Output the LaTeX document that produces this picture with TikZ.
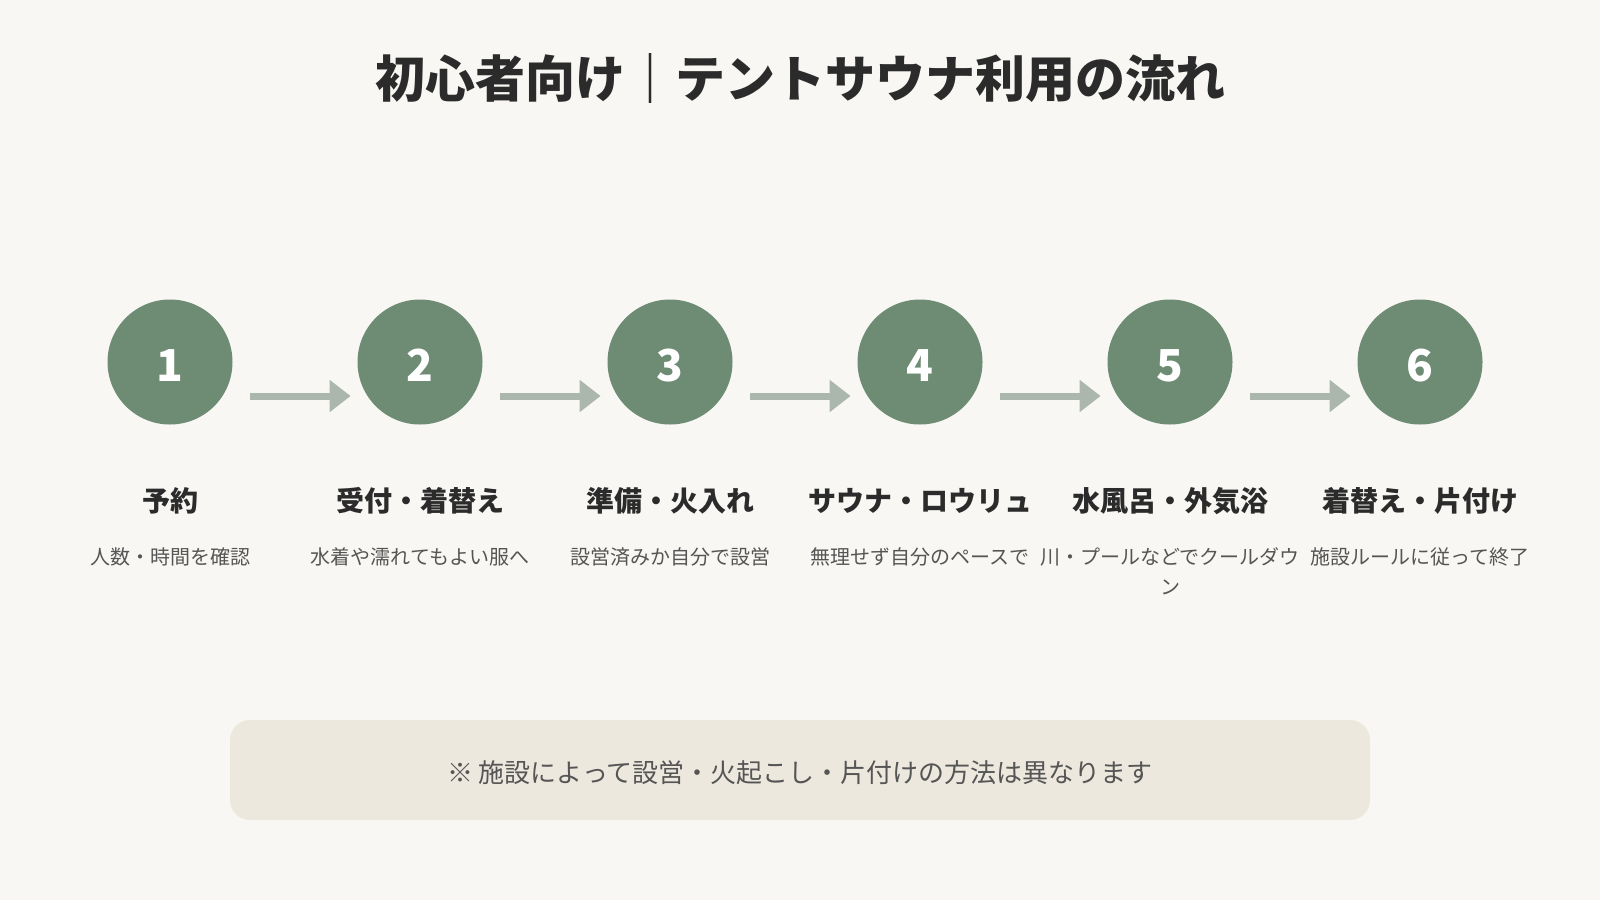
\documentclass[tikz,border=0pt]{standalone}
\usepackage{fontspec}
\setmainfont{Noto Sans CJK JP}
\usetikzlibrary{arrows.meta}
\definecolor{bgcol}{HTML}{F8F7F3}
\definecolor{stepgreen}{HTML}{6E8B74}
\definecolor{arrowgrey}{HTML}{ABB6AC}
\definecolor{notefill}{HTML}{ECE8DD}
\definecolor{darktext}{HTML}{2B2B2B}
\definecolor{softtext}{HTML}{555555}
\tikzset{
  stepcircle/.style={circle, fill=stepgreen, minimum size=62.5pt, inner sep=0pt, text=white, text height=19.5pt, text depth=0pt, font=\fontsize{22pt}{26pt}\selectfont\bfseries},
  steptitle/.style={text=darktext, inner sep=0pt, font=\fontsize{14pt}{17pt}\selectfont\bfseries},
  stepdesc/.style={text=softtext, inner sep=0pt, anchor=north, align=center, font=\fontsize{10pt}{15pt}\selectfont},
  flowarrow/.style={draw=arrowgrey, line width=3.5pt, -{Triangle[length=10.5pt,width=15.5pt]}},
}
\begin{document}
\begin{tikzpicture}[x=0.5pt, y=-0.5pt]
\fill[bgcol] (0,0) rectangle (1600,900);
\useasboundingbox (0,0) rectangle (1600,900);
\node[text=darktext, inner sep=0pt, font=\fontsize{25pt}{30pt}\selectfont\bfseries] (title) at (800,78){初心者向け｜テントサウナ利用の流れ};
\node[stepcircle] (c1) at (170,362){1};
\node[stepcircle] (c2) at (420,362){2};
\node[stepcircle] (c3) at (670,362){3};
\node[stepcircle] (c4) at (920,362){4};
\node[stepcircle] (c5) at (1170,362){5};
\node[stepcircle] (c6) at (1420,362){6};
\draw[flowarrow] ([xshift=8.75pt,yshift=-17pt]c1.east) -- ([xshift=-3.25pt,yshift=-17pt]c2.west);
\draw[flowarrow] ([xshift=8.75pt,yshift=-17pt]c2.east) -- ([xshift=-3.25pt,yshift=-17pt]c3.west);
\draw[flowarrow] ([xshift=8.75pt,yshift=-17pt]c3.east) -- ([xshift=-3.25pt,yshift=-17pt]c4.west);
\draw[flowarrow] ([xshift=8.75pt,yshift=-17pt]c4.east) -- ([xshift=-3.25pt,yshift=-17pt]c5.west);
\draw[flowarrow] ([xshift=8.75pt,yshift=-17pt]c5.east) -- ([xshift=-3.25pt,yshift=-17pt]c6.west);
\node[steptitle] (t1) at (170,501){予約};
\node[steptitle] (t2) at (420,501){受付・着替え};
\node[steptitle] (t3) at (670,501){準備・火入れ};
\node[steptitle] (t4) at (920,501){サウナ・ロウリュ};
\node[steptitle] (t5) at (1170,501){水風呂・外気浴};
\node[steptitle] (t6) at (1420,501){着替え・片付け};
\node[stepdesc] (d1) at (170,547){人数・時間を確認};
\node[stepdesc] (d2) at (420,547){水着や濡れてもよい服へ};
\node[stepdesc] (d3) at (670,547){設営済みか自分で設営};
\node[stepdesc] (d4) at (920,547){無理せず自分のペースで};
\node[stepdesc] (d5) at (1170,547){川・プールなどでクールダウ\\ン};
\node[stepdesc] (d6) at (1420,547){施設ルールに従って終了};
\node[fill=notefill, rounded corners=10pt, minimum width=570pt, minimum height=50pt, text=softtext, text height=14.4pt, text depth=1.6pt, font=\fontsize{13pt}{16pt}\selectfont] (note) at (800,770){※ 施設によって設営・火起こし・片付けの方法は異なります};
\end{tikzpicture}
\end{document}
